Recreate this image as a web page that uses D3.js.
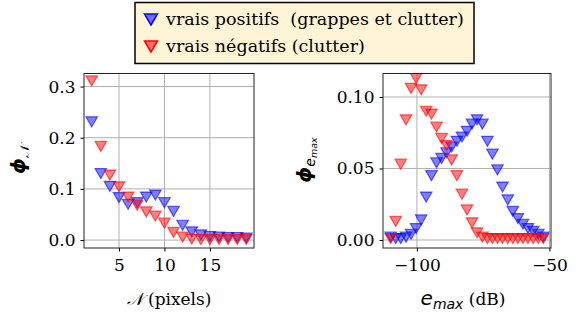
<!DOCTYPE html>
<html>
<head>
<meta charset="utf-8">
<title>Histogrammes</title>
<script src="https://cdn.jsdelivr.net/npm/d3@7"></script>
<style>
body { margin: 0; background: #fff; }
.grid line { stroke: #b0b0b0; stroke-width: 1; }
.axis path, .axis line { stroke: #000; }
</style>
</head>
<body>
<div id="chart"></div>
<script>
// left panel : N (pixels)
var nPix = [2, 3, 4, 5, 6, 7, 8, 9, 10, 11, 12, 13, 14, 15, 16, 17, 18, 19];
var nPos = [0.231, 0.130, 0.105, 0.083, 0.070, 0.073, 0.084, 0.088, 0.073, 0.056, 0.029, 0.016, 0.010, 0.007, 0.006, 0.005, 0.005, 0.004];
var nNeg = [0.311, 0.183, 0.127, 0.104, 0.084, 0.068, 0.055, 0.047, 0.033, 0.015, 0.006, 0.002, 0.001, 0.001, 0.001, 0.001, 0.001, 0.001];

// right panel : e_max (dB)
var eMax = [-109.9, -108.0, -106.1, -104.1, -102.2, -100.3, -98.4, -96.5, -94.5, -92.6,
            -90.7, -88.8, -86.9, -84.9, -83.0, -81.1, -79.2, -77.3, -75.3, -73.4,
            -71.5, -69.6, -67.7, -65.7, -63.8, -61.9, -60.0, -58.1, -56.1, -54.2, -52.3];
var ePos = [0.002, 0.001, 0.001, 0.002, 0.004, 0.008, 0.014, 0.030, 0.045, 0.054,
            0.057, 0.061, 0.065, 0.069, 0.072, 0.076, 0.081, 0.084, 0.081, 0.069,
            0.060, 0.049, 0.037, 0.028, 0.020, 0.015, 0.011, 0.008, 0.006, 0.004, 0.002];
var eNeg = [0.001, 0.013, 0.053, 0.084, 0.106, 0.113, 0.105, 0.090, 0.088, 0.079,
            0.071, 0.066, 0.056, 0.045, 0.032, 0.021, 0.012, 0.005, 0.002, 0.001,
            0.001, 0.001, 0.001, 0.001, 0.001, 0.001, 0.001, 0.001, 0.001, 0.001, 0.001];

var leftTicksX = [5, 10, 15], leftTicksY = [0, 0.1, 0.2, 0.3];
var rightTicksX = [-100, -50], rightTicksY = [0, 0.05, 0.10];
var legendLabels = ["vrais positifs  (grappes et clutter)", "vrais négatifs (clutter)"];

var width = 578, height = 320;
var blue = "#0000ff", red = "#ff0000";
var serif = "'DejaVu Serif', serif", sans = "'DejaVu Sans', sans-serif";

var svg = d3.select("#chart").append("svg")
    .attr("width", width)
    .attr("height", height);

// downward triangle, centred on its bbox like matplotlib "v"
function tri(w, h) {
  return "M0," + (h / 2) + "L" + (-w / 2) + "," + (-h / 2) + "L" + (w / 2) + "," + (-h / 2) + "Z";
}
var marker = tri(11.5, 10);

function panel(opt) {
  var x = d3.scaleLinear().domain(opt.xd).range([opt.x0, opt.x1]);
  var y = d3.scaleLinear().domain(opt.yd).range([opt.y1, opt.y0]);
  var g = svg.append("g");

  var clipId = "clip" + opt.id;
  g.append("clipPath").attr("id", clipId)
    .append("rect")
    .attr("x", opt.x0).attr("y", opt.y0)
    .attr("width", opt.x1 - opt.x0).attr("height", opt.y1 - opt.y0);

  var grid = g.append("g").attr("class", "grid");
  grid.selectAll(".gx").data(opt.tx).enter().append("line")
    .attr("x1", function(d) { return x(d); }).attr("x2", function(d) { return x(d); })
    .attr("y1", opt.y0).attr("y2", opt.y1);
  grid.selectAll(".gy").data(opt.ty).enter().append("line")
    .attr("y1", function(d) { return y(d); }).attr("y2", function(d) { return y(d); })
    .attr("x1", opt.x0).attr("x2", opt.x1);

  var pts = g.append("g").attr("clip-path", "url(#" + clipId + ")");
  [[opt.pos, blue], [opt.neg, red]].forEach(function(s) {
    pts.selectAll(null).data(opt.xs).enter().append("path")
      .attr("d", marker)
      .attr("transform", function(d, i) { return "translate(" + x(d) + "," + y(s[0][i]) + ")"; })
      .attr("fill", s[1]).attr("fill-opacity", 0.5)
      .attr("stroke", s[1]).attr("stroke-opacity", 0.6).attr("stroke-width", 1.2);
  });

  var xa = g.append("g").attr("class", "axis")
    .attr("transform", "translate(0," + opt.y1 + ")")
    .call(d3.axisBottom(x).tickValues(opt.tx).tickSize(3.5).tickPadding(4)
      .tickFormat(opt.fx));
  var ya = g.append("g").attr("class", "axis")
    .attr("transform", "translate(" + opt.x0 + ",0)")
    .call(d3.axisLeft(y).tickValues(opt.ty).tickSize(3.5).tickPadding(5)
      .tickFormat(opt.fy));
  [xa, ya].forEach(function(a) {
    a.select(".domain").remove();
    a.attr("font-family", serif).attr("font-size", 17);
    a.selectAll("text").attr("fill", "#000");
  });
  xa.selectAll("text").attr("dy", "0.9em");

  g.append("rect")
    .attr("x", opt.x0).attr("y", opt.y0)
    .attr("width", opt.x1 - opt.x0).attr("height", opt.y1 - opt.y0)
    .attr("fill", "none").attr("stroke", "#222").attr("stroke-width", 1);
  return g;
}

panel({
  id: "L", x0: 84, x1: 254, y0: 73.5, y1: 248,
  xd: [1.15, 19.85], yd: [-0.0155, 0.3255],
  xs: nPix, pos: nPos, neg: nNeg,
  tx: leftTicksX, ty: leftTicksY,
  fx: d3.format("d"), fy: d3.format(".1f")
});

panel({
  id: "R", x0: 383, x1: 551, y0: 73.5, y1: 248,
  xd: [-112.8, -49.4], yd: [-0.0056, 0.1164],
  xs: eMax, pos: ePos, neg: eNeg,
  tx: rightTicksX, ty: rightTicksY,
  fx: function(d) { return String(d).replace("-", "\u2212"); }, fy: d3.format(".2f")
});

// axis labels
var lx = svg.append("text").attr("x", 169).attr("y", 305)
  .attr("text-anchor", "middle").style("font-family", serif).style("font-size", "17px");
lx.append("tspan").style("font-style", "italic").text("𝒩");
lx.append("tspan").text(" (pixels)");

var ly = svg.append("text").attr("transform", "translate(25,160) rotate(-90)")
  .attr("text-anchor", "middle").style("font-family", sans);
ly.append("tspan").style("font-style", "italic")
  .style("font-size", "20px").style("font-weight", "bold").text("ϕ");
ly.append("tspan").attr("dy", 4).style("font-style", "italic")
  .style("font-size", "13px").text("𝒩");

var rx = svg.append("text").attr("x", 463).attr("y", 305)
  .attr("text-anchor", "middle").style("font-family", serif).style("font-size", "17px");
rx.append("tspan").style("font-family", sans).style("font-style", "italic")
  .style("font-size", "20px").text("e");
rx.append("tspan").attr("dy", 4).style("font-family", sans).style("font-style", "italic")
  .style("font-size", "14px").text("max");
rx.append("tspan").attr("dy", -4).text(" (dB)");

var ry = svg.append("text").attr("transform", "translate(311,160) rotate(-90)")
  .attr("text-anchor", "middle").style("font-family", sans).style("font-style", "italic");
ry.append("tspan").style("font-size", "20px").style("font-weight", "bold").text("ϕ");
ry.append("tspan").attr("dy", 4).style("font-size", "14px").text("e");
ry.append("tspan").attr("dy", 2).style("font-size", "9.5px").text("max");

// legend
var lg = svg.append("g");
lg.append("rect").attr("x", 135).attr("y", 2.5).attr("width", 339).attr("height", 61)
  .attr("fill", "#fff5d6").attr("stroke", "#000").attr("stroke-width", 1.5);
var ly0 = d3.scaleBand().domain(legendLabels).range([6, 60]);
var items = lg.selectAll(".item").data(legendLabels).enter().append("g")
  .attr("transform", function(d) { return "translate(0," + (ly0(d) + ly0.bandwidth() / 2) + ")"; });
items.append("path").attr("d", tri(13, 11))
  .attr("transform", "translate(151,0)")
  .attr("fill", function(d, i) { return i ? red : blue; }).attr("fill-opacity", 0.55)
  .attr("stroke", function(d, i) { return i ? red : blue; }).attr("stroke-width", 1.5);
items.append("text").attr("x", 166).attr("dy", "0.33em")
  .style("font-family", serif).style("font-size", "17.5px").style("white-space", "pre")
  .text(function(d) { return d; });
</script>
</body>
</html>
